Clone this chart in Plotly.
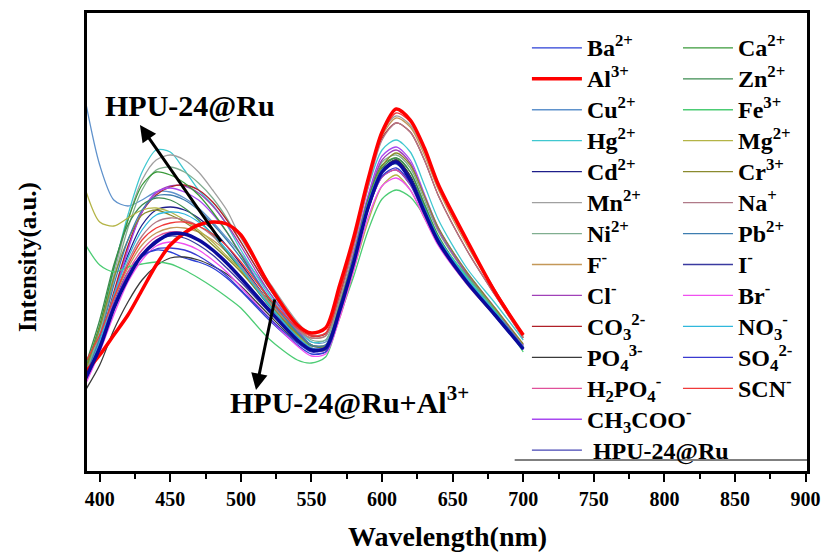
import plotly.graph_objects as go

# Wavelength grid (nm)
wl = [390, 400, 410, 420, 430, 440, 450, 460, 470, 480, 490, 500, 520, 540, 550,
      560, 570, 580, 590, 600, 610, 620, 630, 640, 660, 680, 700]

# Emission intensities (a.u.)
ba = [95, 129, 169, 199, 215, 221, 219, 213, 209, 203, 193, 180, 151, 126, 117, 119, 157, 207, 261, 294, 301, 286, 256, 227, 188, 155, 121]
ca = [103, 146, 203, 251, 286, 299, 296, 288, 276, 259, 239, 216, 171, 138, 126, 126, 166, 216, 271, 306, 313, 299, 267, 235, 193, 159, 124]
al = [99, 116, 136, 156, 181, 206, 226, 238, 246, 249, 247, 236, 186, 146, 138, 143, 186, 234, 291, 339, 362, 351, 323, 286, 231, 179, 136]
zn = [106, 151, 206, 246, 266, 273, 271, 263, 251, 236, 219, 201, 165, 135, 125, 125, 163, 213, 267, 303, 313, 299, 266, 234, 192, 158, 123]
cu = [369, 306, 271, 265, 271, 279, 279, 273, 263, 249, 233, 217, 179, 143, 129, 129, 164, 213, 266, 301, 308, 291, 261, 231, 191, 157, 123]
fe = [226, 206, 199, 204, 207, 209, 207, 201, 193, 184, 174, 163, 132, 111, 108, 114, 155, 195, 240, 272, 281, 274, 255, 231, 195, 161, 119]
hg = [99, 141, 201, 256, 299, 321, 319, 301, 281, 266, 246, 221, 176, 141, 129, 131, 173, 228, 283, 321, 331, 319, 286, 251, 203, 168, 131]
mg = [281, 249, 245, 253, 261, 263, 259, 251, 241, 229, 215, 201, 169, 136, 123, 121, 153, 201, 249, 285, 296, 281, 253, 226, 187, 155, 123]
cd = [91, 126, 176, 216, 246, 261, 264, 261, 253, 241, 225, 207, 169, 135, 123, 123, 161, 211, 265, 301, 311, 295, 263, 231, 190, 156, 122]
cr = [101, 143, 193, 231, 256, 261, 256, 249, 239, 226, 213, 199, 167, 137, 126, 125, 163, 213, 267, 305, 318, 306, 275, 243, 199, 163, 127]
mn = [96, 136, 196, 251, 291, 311, 316, 311, 299, 281, 261, 233, 189, 149, 136, 138, 179, 231, 291, 339, 355, 346, 319, 283, 229, 181, 135]
na = [93, 129, 173, 209, 235, 249, 253, 251, 245, 235, 221, 205, 169, 141, 133, 135, 173, 225, 283, 331, 348, 339, 311, 275, 221, 176, 133]
ni = [99, 136, 191, 243, 281, 301, 304, 299, 288, 273, 253, 229, 183, 145, 131, 131, 169, 219, 273, 309, 316, 303, 271, 239, 196, 161, 126]
pb = [95, 133, 186, 231, 261, 275, 276, 271, 261, 247, 231, 213, 173, 139, 126, 126, 163, 213, 266, 301, 307, 291, 261, 231, 191, 157, 123]
fl = [95, 129, 171, 203, 226, 238, 243, 243, 239, 231, 219, 203, 169, 141, 133, 135, 175, 227, 285, 335, 353, 344, 316, 281, 226, 179, 134]
iod = [89, 121, 161, 193, 216, 231, 235, 233, 226, 216, 203, 189, 159, 131, 121, 121, 159, 209, 263, 299, 308, 291, 259, 229, 189, 156, 122]
cl = [91, 126, 176, 223, 259, 278, 285, 285, 278, 265, 247, 225, 179, 141, 126, 126, 163, 215, 271, 311, 321, 308, 275, 241, 197, 161, 125]
br = [87, 119, 156, 189, 211, 225, 229, 227, 221, 211, 199, 184, 153, 125, 115, 117, 153, 201, 253, 285, 293, 281, 253, 225, 187, 155, 122]
co3 = [93, 129, 179, 225, 259, 276, 284, 286, 281, 269, 251, 229, 183, 146, 135, 137, 176, 226, 286, 333, 348, 339, 311, 275, 221, 176, 133]
no3 = [93, 129, 176, 213, 241, 256, 259, 257, 249, 237, 221, 203, 166, 134, 123, 123, 161, 213, 268, 301, 308, 293, 263, 233, 193, 159, 124]
po4 = [81, 106, 141, 169, 191, 205, 213, 214, 211, 205, 197, 185, 156, 129, 121, 122, 160, 209, 264, 300, 311, 295, 263, 231, 190, 156, 122]
so4 = [91, 126, 166, 196, 214, 222, 223, 221, 215, 206, 195, 181, 153, 128, 119, 119, 157, 207, 261, 295, 303, 288, 258, 229, 189, 156, 122]
h2po4 = [95, 126, 166, 199, 221, 234, 239, 238, 231, 221, 208, 193, 161, 131, 121, 121, 158, 207, 261, 294, 301, 287, 257, 228, 189, 156, 123]
scn = [109, 136, 173, 206, 231, 243, 248, 249, 245, 237, 225, 209, 173, 143, 135, 138, 179, 229, 287, 336, 358, 349, 321, 285, 229, 181, 136]
ch3coo = [89, 123, 173, 221, 259, 279, 283, 279, 271, 257, 239, 217, 173, 137, 125, 125, 165, 219, 275, 315, 324, 311, 277, 243, 199, 163, 126]
hpu = [93, 123, 163, 193, 216, 229, 237, 237, 231, 221, 208, 193, 161, 131, 121, 123, 161, 209, 263, 299, 309, 291, 259, 229, 189, 156, 122]

x_ticks = [400, 450, 500, 550, 600, 650, 700, 750, 800, 850, 900]

FONT = "Liberation Serif"


def big(label):
    return '<span style="font-size:24px">' + label + "</span>"


# (label, values, colour, width, legend, rank)
series = [
    ("Ba<sup>2+</sup>", ba, "#2a3fd6", 1.3, "legend", 1),
    ("Cu<sup>2+</sup>", cu, "#5f92cc", 1.3, "legend", 3),
    ("Hg<sup>2+</sup>", hg, "#40c8d0", 1.3, "legend", 4),
    ("Cd<sup>2+</sup>", cd, "#1e1e8a", 1.3, "legend", 5),
    ("Mn<sup>2+</sup>", mn, "#a0a0a0", 1.3, "legend", 6),
    ("Ni<sup>2+</sup>", ni, "#80ae90", 1.3, "legend", 7),
    ("F<sup>-</sup>", fl, "#c49858", 1.3, "legend", 8),
    ("Cl<sup>-</sup>", cl, "#a040b8", 1.3, "legend", 9),
    ("CO<sub>3</sub><sup>2-</sup>", co3, "#b02028", 1.3, "legend", 10),
    ("PO<sub>4</sub><sup>3-</sup>", po4, "#3a3a3a", 1.3, "legend", 11),
    ("H<sub>2</sub>PO<sub>4</sub><sup>-</sup>", h2po4, "#e0509a", 1.3, "legend", 12),
    ("CH<sub>3</sub>COO<sup>-</sup>", ch3coo, "#a848f0", 1.3, "legend", 13),
    ("Ca<sup>2+</sup>", ca, "#3a9a3a", 1.3, "legend2", 1),
    ("Zn<sup>2+</sup>", zn, "#3c8c50", 1.3, "legend2", 2),
    ("Fe<sup>3+</sup>", fe, "#4ccc74", 1.3, "legend2", 3),
    ("Mg<sup>2+</sup>", mg, "#b4b446", 1.3, "legend2", 4),
    ("Cr<sup>3+</sup>", cr, "#8a8a2e", 1.3, "legend2", 5),
    ("Na<sup>+</sup>", na, "#b07a88", 1.3, "legend2", 6),
    ("Pb<sup>2+</sup>", pb, "#3d7db0", 1.3, "legend2", 7),
    ("I<sup>-</sup>", iod, "#3a3aa0", 1.3, "legend2", 8),
    ("Br<sup>-</sup>", br, "#f050f0", 1.3, "legend2", 9),
    ("NO<sub>3</sub><sup>-</sup>", no3, "#30b8dc", 1.3, "legend2", 10),
    ("SO<sub>4</sub><sup>2-</sup>", so4, "#3a3ad0", 1.3, "legend2", 11),
    ("SCN<sup>-</sup>", scn, "#f03a3a", 1.3, "legend2", 12),
    ("Al<sup>3+</sup>", al, "#ff0000", 3.5, "legend", 2),
]

fig = go.Figure()
for name, vals, col, w, leg, rank in series:
    fig.add_trace(go.Scatter(
        x=wl, y=vals, mode="lines", name=big(name),
        line=dict(color=col, width=w, shape="spline", smoothing=0.8),
        legend=leg, legendrank=rank, hoverinfo="skip"))

# HPU-24@Ru: thick curve, thin legend sample
fig.add_trace(go.Scatter(
    x=wl, y=hpu, mode="lines", name="\u00a0HPU-24@Ru", showlegend=False,
    legendgroup="hpu", line=dict(color="#0a0a9c", width=3.5, shape="spline", smoothing=0.8),
    hoverinfo="skip"))
fig.add_trace(go.Scatter(
    x=[None], y=[None], mode="lines", name=big("\u00a0HPU-24@Ru"), legendgroup="hpu",
    line=dict(color="#4646b4", width=1.3), legend="legend", legendrank=14))

legend_font = dict(family=FONT, size=21.5, color="black", weight="bold")

# the page body adds an 8 px offset, so the figure is 8 px smaller on each axis
fig.update_layout(
    width=821, height=548,
    margin=dict(l=79, r=22, t=5, b=85, autoexpand=False),
    paper_bgcolor="white", plot_bgcolor="white",
    showlegend=True,
    legend=dict(x=0.611, y=0.9686, xanchor="left", yanchor="top",
                font=legend_font, itemwidth=50, bgcolor="rgba(0,0,0,0)",
                traceorder="normal", tracegroupgap=0),
    legend2=dict(x=0.8208, y=0.9686, xanchor="left", yanchor="top",
                 font=legend_font, itemwidth=50, bgcolor="rgba(0,0,0,0)",
                 traceorder="normal", tracegroupgap=0),
    xaxis=dict(range=[391, 901], showline=True, linecolor="black", linewidth=2.5,
               mirror=True, ticks="outside", ticklen=8, tickwidth=2, tickcolor="black",
               tickvals=x_ticks, showgrid=False, zeroline=False, automargin=False,
               tickfont=dict(family=FONT, size=20, color="black", weight="bold"),
               minor=dict(dtick=25, tick0=400, ticks="outside", ticklen=5, tickwidth=2,
                          tickcolor="black", showgrid=False)),
    yaxis=dict(range=[0, 458], showline=True, linecolor="black", linewidth=2.5,
               mirror=True, ticks="", showticklabels=False, showgrid=False,
               zeroline=False, automargin=False),
    annotations=[
        dict(x=428.5, y=346, ax=486.6, ay=228, xref="x", yref="y", axref="x", ayref="y",
             text="", showarrow=True, arrowhead=2, arrowsize=1.1, arrowwidth=3,
             arrowcolor="black"),
        dict(x=510.7, y=81, ax=524.2, ay=173, xref="x", yref="y", axref="x", ayref="y",
             text="", showarrow=True, arrowhead=2, arrowsize=1.1, arrowwidth=3,
             arrowcolor="black"),
        dict(x=464, y=366, xref="x", yref="y", text="HPU-24@Ru", showarrow=False,
             font=dict(family=FONT, size=30, color="black", weight="bold")),
        dict(x=490.9, y=71, xref="x", yref="y", xanchor="left",
             text="HPU-24@Ru+Al<sup>3+</sup>", showarrow=False,
             font=dict(family=FONT, size=30, color="black", weight="bold")),
        dict(x=0.5, y=-0.144, xref="paper", yref="paper", text="Wavelength(nm)",
             showarrow=False, xanchor="center", yanchor="middle",
             font=dict(family=FONT, size=28, color="black", weight="bold")),
        dict(x=-0.082, y=0.467, xref="paper", yref="paper", text="Intensity(a.u.)",
             showarrow=False, textangle=-90, xanchor="center", yanchor="middle",
             font=dict(family=FONT, size=25, color="black", weight="bold")),
    ],
    shapes=[
        dict(type="line", xref="paper", yref="paper", x0=0.594, x1=1.0,
             y0=0.024, y1=0.024, line=dict(color="black", width=1)),
    ],
)

fig.write_html("out.html")
